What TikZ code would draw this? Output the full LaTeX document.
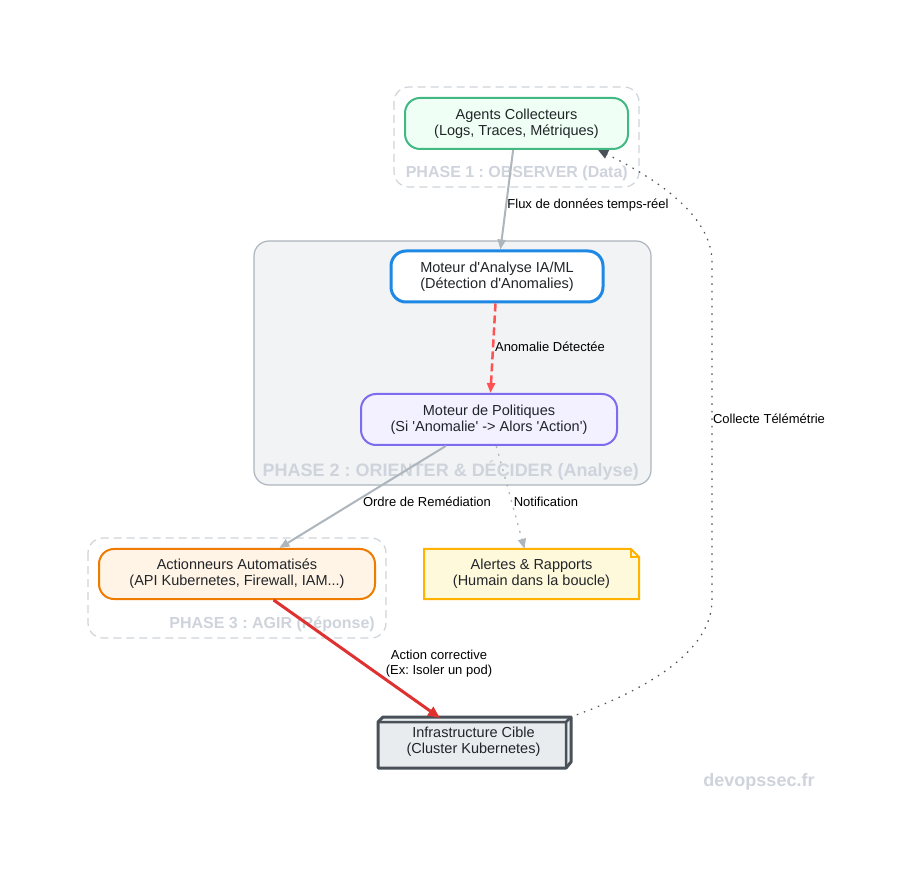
\documentclass[tikz,border=0pt]{standalone}
\usepackage{fontspec}
\setmainfont[Ligatures=TeXOff]{Liberation Sans}
\usetikzlibrary{arrows.meta,calc}
\frenchspacing
\definecolor{inktext}{HTML}{212529}
\definecolor{phasetext}{HTML}{CFD4DC}
\definecolor{phasefill}{HTML}{F1F3F5}
\definecolor{edgegray}{HTML}{ADB5BD}
\definecolor{dashgray}{HTML}{CED4DA}
\definecolor{infraline}{HTML}{495057}
\definecolor{infrafill}{HTML}{E9ECEF}
\definecolor{notestroke}{HTML}{FFB300}
\definecolor{notefill}{HTML}{FFF9DB}
\definecolor{actionred}{HTML}{E03131}
\tikzset{
	box/.style={rounded corners=15pt,text=inktext,align=center,inner sep=0pt,
		font=\fontsize{14.5}{16}\selectfont},
	phase/.style={rounded corners=15pt,line width=1.2pt},
	phasename/.style={text=phasetext,inner sep=0pt,
		font=\fontsize{16}{18}\selectfont\bfseries},
	bigphasename/.style={phasename,font=\fontsize{18}{20}\selectfont\bfseries},
	edgename/.style={text=black,align=center,inner sep=0pt,
		font=\fontsize{13}{15}\selectfont},
	tip/.style={-{Triangle[length=10pt,width=8pt]}},
}
\begin{document}
\begin{tikzpicture}[x=1pt,y=-1pt]
	\useasboundingbox[fill=white] (0,0) rectangle (903,874);
	% phases
	\draw[phase,dashgray,dash pattern=on 8pt off 5pt] (394,87) rectangle (639,187);
	\draw[phase,edgegray,fill=phasefill] (254,241) rectangle (651,485);
	\draw[phase,dashgray,dash pattern=on 8pt off 5pt] (88,538) rectangle (386,638);
	\node[phasename,anchor=east](phaseone) at (628,173.5) {PHASE 1 : OBSERVER (Data)};
	\node[bigphasename,anchor=east](phasetwo) at (639,470) {PHASE 2 : ORIENTER \& DÉCIDER (Analyse)};
	\node[phasename,anchor=east](phasethree) at (375,624.5) {PHASE 3 : AGIR (Réponse)};
	% shapes with no ready node outline
	\draw[line width=2pt,draw=notestroke,fill=notefill]
		(424,549) -- (631,549) -- (639,557) -- (639,599) -- (424,599) -- cycle;
	\draw[line width=1.2pt,draw=notestroke] (631,549) -- (631,557) -- (639,557);
	\draw[line width=3pt,draw=infraline,fill=infrafill,line join=round]
		(378,722) -- (383,717) -- (571,717) -- (571,762) -- (566,768)
		-- (378,768) -- cycle;
	\draw[line width=2.5pt,draw=infraline,line join=round]
		(378,722) -- (566,722) -- (566,768) (566,722) -- (571,717);
	% nodes
	\node[box,draw={rgb,255:red,66;green,184;blue,131},line width=2pt,
		fill={rgb,255:red,240;green,255;blue,246},minimum width=223pt,minimum height=51pt]
		(agents) at (516.5,123.5) {Agents Collecteurs\\(Logs, Traces, Métriques)};
	\node[box,draw={rgb,255:red,30;green,136;blue,229},line width=3pt,fill=white,
		minimum width=212pt,minimum height=51pt]
		(moteur) at (497,276.5) {Moteur d'Analyse IA/ML\\(Détection d'Anomalies)};
	\node[box,draw={rgb,255:red,124;green,108;blue,240},line width=2pt,
		fill={rgb,255:red,243;green,240;blue,255},minimum width=256pt,minimum height=51pt]
		(politiques) at (489,419.5) {Moteur de Politiques\\(Si 'Anomalie' -> Alors 'Action')};
	\node[box,draw={rgb,255:red,239;green,124;blue,0},line width=2pt,
		fill={rgb,255:red,255;green,244;blue,230},minimum width=276pt,minimum height=50pt]
		(actionneurs) at (237,574) {Actionneurs Automatisés\\(API Kubernetes, Firewall, IAM...)};
	\node[box,rounded corners=0pt,minimum width=215pt,minimum height=50pt]
		(alertes) at (531.5,574) {Alertes \& Rapports\\(Humain dans la boucle)};
	\node[box,rounded corners=0pt,minimum width=193pt,minimum height=51pt]
		(infra) at (474.5,742.5) {};
	\node[box,inner sep=0pt](infratext) at (473.5,742) {Infrastructure Cible\\(Cluster Kubernetes)};
	% edges
	\draw[tip,edgegray,line width=2pt] (agents) -- (moteur);
	\draw[tip,red!68!white,line width=2.5pt,dash pattern=on 8pt off 4pt] (moteur) -- (politiques);
	\draw[tip,edgegray,line width=2pt] (politiques) -- (actionneurs);
	\draw[tip,edgegray,line width=1.3pt,dash pattern=on 2pt off 6pt] (politiques) -- (alertes);
	\draw[-{Triangle[length=12pt,width=10pt]},actionred,line width=3pt,shorten >=-2pt] (actionneurs) -- (infra);
	\coordinate (bendlow) at (712,600);
	\coordinate (bendhigh) at (712,262);
	\draw[-{Triangle[length=10pt,width=9pt]},infraline,line width=1.2pt,dash pattern=on 1.5pt off 6pt,
		shorten <=6pt]
		(infra.north east) .. controls (650,688) and (712,650) .. (bendlow)
		-- (bendhigh) .. controls (712,215) and (655,178) .. (agents.-18);
	% labels
	\node[edgename](fluxname) at (588,205.5) {Flux de données temps-réel};
	\node[edgename](anomalie) at (550,346.5) {Anomalie Détectée};
	\node[edgename](ordre) at (427,501.5) {Ordre de Remédiation};
	\node[edgename](notif) at (546,501.5) {Notification};
	\node[edgename](correct) at (439,663.5) {Action corrective\\(Ex: Isoler un pod)};
	\node[edgename](collecte) at (769,418.5) {Collecte Télémétrie};
	\node[bigphasename](marque) at (759,782) {devopssec.fr};
\end{tikzpicture}
\end{document}
